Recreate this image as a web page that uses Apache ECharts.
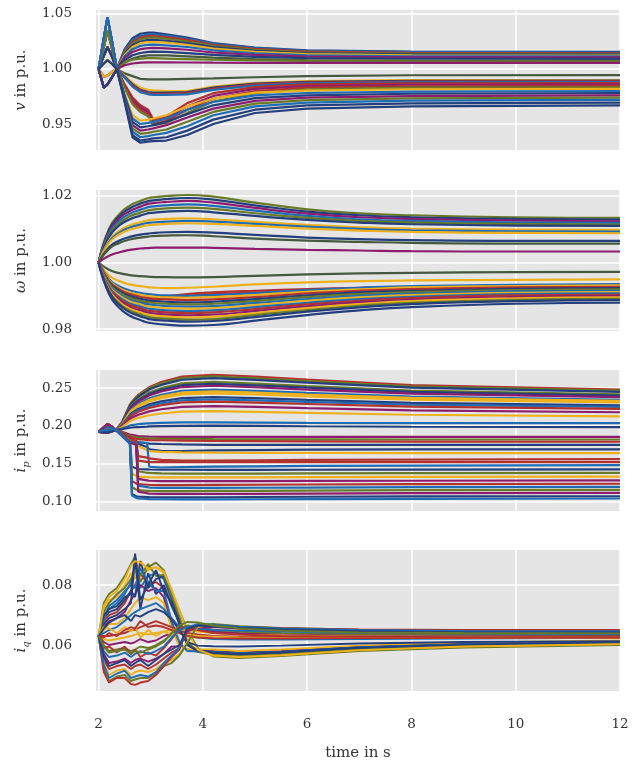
<!DOCTYPE html>
<html>
<head>
<meta charset="UTF-8">
<title>grid simulation</title>
<script src="https://cdn.jsdelivr.net/npm/echarts@6/dist/echarts.min.js"></script>
<style>
  html, body { margin: 0; padding: 0; background: #fff; }
  #chart { width: 644px; height: 762px; }
</style>
</head>
<body>
<div id="chart"></div>
<script>
// ---- time bases ----
var tV = [2, 2.1, 2.17, 2.25, 2.35, 2.5, 2.65, 2.8, 2.95, 3.05, 3.3, 3.7, 4.2, 5, 6, 8, 12];
var tW = [2, 2.2, 2.4, 2.6, 2.8, 2.9, 3.0, 3.3, 3.7, 4.2, 5, 6, 7, 8, 10, 12];
var tP = [2, 2.1, 2.17, 2.25, 2.33, 2.45, 2.6, 2.64, 2.72, 2.76, 2.93, 2.97, 3.2, 3.6, 4.2, 5, 6, 8, 12];
var tQ = [2, 2.1, 2.2, 2.35, 2.5, 2.62, 2.7, 2.8, 2.95, 3.1, 3.25, 3.4, 3.55, 3.7, 3.9, 4.2, 4.7, 5.5, 7, 9, 12];

// ---- tick labels ----
var xTicks = [2, 4, 6, 8, 10, 12];
var vTicks = [0.95, 1.00, 1.05];
var wTicks = [0.98, 1.00, 1.02];
var pTicks = [0.10, 0.15, 0.20, 0.25];
var qTicks = [0.06, 0.08];

// ---- voltage v ----
var vUpper = [
  [1, 1.028, 1.047, 1.027, 1.000, 1.018, 1.028, 1.032, 1.033, 1.033, 1.0315, 1.0285, 1.0235, 1.0195, 1.017, 1.0158, 1.0155],
  [1, 0.983, 0.986, 0.992, 1.000, 1.017, 1.026, 1.030, 1.0315, 1.0315, 1.0305, 1.0275, 1.023, 1.019, 1.0165, 1.0153, 1.015],
  [1, 1.020, 1.035, 1.020, 1.000, 1.016, 1.0245, 1.0285, 1.030, 1.030, 1.029, 1.0265, 1.022, 1.0182, 1.0158, 1.0146, 1.0143],
  [1, 0.983, 0.986, 0.992, 1.000, 1.015, 1.023, 1.027, 1.0285, 1.0285, 1.0275, 1.025, 1.021, 1.0173, 1.015, 1.0139, 1.0136],
  [1, 1.012, 1.020, 1.012, 1.000, 1.014, 1.0215, 1.025, 1.0265, 1.0265, 1.0255, 1.0235, 1.0198, 1.0165, 1.0143, 1.0132, 1.013],
  [1, 1.028, 1.047, 1.027, 1.000, 1.013, 1.020, 1.0235, 1.0245, 1.0245, 1.024, 1.022, 1.0185, 1.0155, 1.0135, 1.0125, 1.0122],
  [1, 0.993, 0.994, 0.997, 1.000, 1.0115, 1.018, 1.021, 1.022, 1.0222, 1.0215, 1.020, 1.017, 1.0143, 1.0125, 1.0116, 1.0114],
  [1, 1.020, 1.035, 1.020, 1.000, 1.010, 1.0155, 1.018, 1.019, 1.0192, 1.0188, 1.0175, 1.015, 1.0128, 1.0113, 1.0106, 1.0105],
  [1, 0.983, 0.986, 0.992, 1.000, 1.008, 1.0125, 1.0145, 1.0155, 1.0158, 1.0155, 1.0145, 1.0128, 1.011, 1.0098, 1.0093, 1.0092],
  [1, 1.005, 1.008, 1.005, 1.000, 1.006, 1.0095, 1.0115, 1.0123, 1.0125, 1.0123, 1.0115, 1.0103, 1.009, 1.008, 1.0076, 1.0075],
  [1, 1.005, 1.008, 1.005, 1.000, 1.006, 1.0085, 1.0095, 1.0098, 1.0098, 1.0095, 1.009, 1.0084, 1.0078, 1.0073, 1.007, 1.007],
  [1, 0.993, 0.994, 0.997, 1.000, 1.0035, 1.005, 1.0058, 1.006, 1.006, 1.006, 1.0059, 1.0057, 1.0056, 1.0055, 1.0055, 1.0055]
];
var vMiddle = [
  [1, 1.012, 1.020, 1.012, 1.000, 0.996, 0.9935, 0.991, 0.9905, 0.9905, 0.9905, 0.991, 0.9915, 0.9925, 0.9935, 0.9943, 0.9945],
  [1, 1.005, 1.008, 1.005, 1.000, 0.994, 0.9875, 0.983, 0.981, 0.9805, 0.980, 0.980, 0.984, 0.9875, 0.989, 0.9898, 0.990],
  [1, 1.028, 1.047, 1.027, 1.000, 0.993, 0.986, 0.981, 0.979, 0.9785, 0.9785, 0.979, 0.983, 0.9868, 0.9883, 0.9892, 0.9895],
  [1, 0.983, 0.986, 0.992, 1.000, 0.9925, 0.985, 0.980, 0.978, 0.9775, 0.9775, 0.978, 0.982, 0.986, 0.9876, 0.9885, 0.9888],
  [1, 1.020, 1.035, 1.020, 1.000, 0.992, 0.984, 0.979, 0.977, 0.9765, 0.9765, 0.977, 0.981, 0.985, 0.987, 0.9878, 0.988]
];
var vLower = [
  [1, 1.012, 1.020, 1.012, 1.000, 0.986, 0.974, 0.967, 0.963, 0.954, 0.957, 0.969, 0.978, 0.9835, 0.986, 0.987, 0.9872],
  [1, 1.028, 1.047, 1.027, 1.000, 0.985, 0.972, 0.965, 0.961, 0.952, 0.955, 0.966, 0.9755, 0.982, 0.9845, 0.9857, 0.986],
  [1, 0.983, 0.986, 0.992, 1.000, 0.984, 0.970, 0.963, 0.959, 0.950, 0.953, 0.963, 0.973, 0.980, 0.983, 0.9843, 0.9847],
  [1, 1.020, 1.035, 1.020, 1.000, 0.983, 0.968, 0.961, 0.957, 0.949, 0.951, 0.960, 0.9705, 0.978, 0.9815, 0.983, 0.9834],
  [1, 0.993, 0.994, 0.997, 1.000, 0.977, 0.958, 0.953, 0.954, 0.955, 0.958, 0.966, 0.973, 0.9785, 0.9804, 0.9816, 0.982],
  [1, 1.028, 1.047, 1.027, 1.000, 0.976, 0.955, 0.950, 0.951, 0.952, 0.955, 0.963, 0.970, 0.976, 0.9782, 0.9795, 0.980],
  [1, 1.012, 1.020, 1.012, 1.000, 0.975, 0.952, 0.947, 0.948, 0.949, 0.952, 0.959, 0.967, 0.9735, 0.976, 0.9775, 0.978],
  [1, 0.983, 0.986, 0.992, 1.000, 0.974, 0.949, 0.944, 0.945, 0.946, 0.949, 0.956, 0.964, 0.971, 0.974, 0.9754, 0.976],
  [1, 1.020, 1.035, 1.020, 1.000, 0.973, 0.946, 0.941, 0.942, 0.943, 0.945, 0.952, 0.961, 0.9685, 0.9717, 0.9733, 0.974],
  [1, 1.028, 1.047, 1.027, 1.000, 0.972, 0.943, 0.938, 0.939, 0.940, 0.942, 0.948, 0.958, 0.966, 0.9695, 0.9712, 0.972],
  [1, 1.005, 1.008, 1.005, 1.000, 0.971, 0.940, 0.935, 0.936, 0.937, 0.938, 0.944, 0.954, 0.963, 0.967, 0.9688, 0.9695],
  [1, 0.983, 0.986, 0.992, 1.000, 0.970, 0.938, 0.933, 0.934, 0.9345, 0.935, 0.940, 0.950, 0.960, 0.964, 0.966, 0.967]
];
var vColors = 'nbronybpngop' + 'gynrb' + 'rproybnpobnn';

// ---- frequency omega ----
var wUpper = [
  [1, 1.0102, 1.0146, 1.0171, 1.0185, 1.0191, 1.0195, 1.0200, 1.0203, 1.0198, 1.0180, 1.0160, 1.0148, 1.0142, 1.0136, 1.0134],
  [1, 1.0097, 1.0140, 1.0163, 1.0177, 1.0182, 1.0186, 1.0191, 1.0194, 1.0189, 1.0172, 1.0153, 1.0142, 1.0136, 1.0131, 1.0129],
  [1, 1.0092, 1.0133, 1.0155, 1.0168, 1.0174, 1.0178, 1.0182, 1.0185, 1.0180, 1.0164, 1.0147, 1.0136, 1.0131, 1.0126, 1.0124],
  [1, 1.0087, 1.0126, 1.0147, 1.0159, 1.0164, 1.0168, 1.0172, 1.0175, 1.0170, 1.0156, 1.0140, 1.0130, 1.0125, 1.0121, 1.0119],
  [1, 1.0082, 1.0119, 1.0139, 1.0150, 1.0155, 1.0158, 1.0163, 1.0165, 1.0161, 1.0148, 1.0134, 1.0125, 1.0120, 1.0116, 1.0114],
  [1, 1.0077, 1.0112, 1.0130, 1.0141, 1.0146, 1.0149, 1.0153, 1.0155, 1.0151, 1.0140, 1.0128, 1.0120, 1.0115, 1.0111, 1.0110],
  [1, 1.0066, 1.0096, 1.0112, 1.0121, 1.0125, 1.0128, 1.0131, 1.0133, 1.0130, 1.0122, 1.0113, 1.0106, 1.0102, 1.0099, 1.0098],
  [1, 1.0062, 1.0090, 1.0105, 1.0114, 1.0118, 1.0120, 1.0123, 1.0125, 1.0123, 1.0116, 1.0108, 1.0101, 1.0097, 1.0094, 1.0093],
  [1, 1.0059, 1.0085, 1.0099, 1.0107, 1.0111, 1.0113, 1.0116, 1.0118, 1.0116, 1.0110, 1.0102, 1.0096, 1.0092, 1.0089, 1.0088],
  [1, 1.0046, 1.0066, 1.0077, 1.0084, 1.0086, 1.0088, 1.0091, 1.0092, 1.0090, 1.0083, 1.0075, 1.0070, 1.0067, 1.0065, 1.0065],
  [1, 1.0041, 1.0059, 1.0069, 1.0075, 1.0077, 1.0079, 1.0081, 1.0082, 1.0079, 1.0072, 1.0066, 1.0062, 1.0059, 1.0057, 1.0057],
  [1, 1.0020, 1.0031, 1.0038, 1.0042, 1.0043, 1.0044, 1.0045, 1.0045, 1.0044, 1.0041, 1.0038, 1.0036, 1.0034, 1.0033, 1.0033]
];
var wLower = [
  [1, 0.9978, 0.9968, 0.9962, 0.9959, 0.9958, 0.9957, 0.9956, 0.9955, 0.9956, 0.9960, 0.9964, 0.9967, 0.9969, 0.9971, 0.9972],
  [1, 0.9961, 0.9944, 0.9934, 0.9929, 0.9927, 0.9925, 0.9923, 0.9924, 0.9927, 0.9934, 0.9940, 0.9944, 0.9946, 0.9948, 0.9949],
  [1, 0.9950, 0.9920, 0.9900, 0.9886, 0.9882, 0.9888, 0.9898, 0.9905, 0.9910, 0.9915, 0.9920, 0.9924, 0.9927, 0.9930, 0.9931],
  [1, 0.9947, 0.9916, 0.9896, 0.9882, 0.9878, 0.9882, 0.9892, 0.9900, 0.9905, 0.9910, 0.9916, 0.9920, 0.9923, 0.9926, 0.9927],
  [1, 0.9950, 0.9928, 0.9916, 0.9909, 0.9906, 0.9904, 0.9901, 0.9900, 0.9902, 0.9908, 0.9917, 0.9924, 0.9929, 0.9933, 0.9935],
  [1, 0.9947, 0.9923, 0.9910, 0.9903, 0.9900, 0.9898, 0.9895, 0.9894, 0.9896, 0.9902, 0.9912, 0.9919, 0.9925, 0.9929, 0.9931],
  [1, 0.9944, 0.9919, 0.9905, 0.9897, 0.9894, 0.9892, 0.9889, 0.9887, 0.9889, 0.9896, 0.9907, 0.9915, 0.9920, 0.9925, 0.9927],
  [1, 0.9940, 0.9914, 0.9899, 0.9891, 0.9888, 0.9885, 0.9882, 0.9880, 0.9882, 0.9890, 0.9901, 0.9910, 0.9915, 0.9921, 0.9923],
  [1, 0.9937, 0.9909, 0.9894, 0.9885, 0.9882, 0.9879, 0.9876, 0.9874, 0.9876, 0.9884, 0.9896, 0.9905, 0.9911, 0.9917, 0.9919],
  [1, 0.9933, 0.9904, 0.9888, 0.9879, 0.9875, 0.9873, 0.9869, 0.9867, 0.9869, 0.9878, 0.9890, 0.9900, 0.9906, 0.9913, 0.9915],
  [1, 0.9930, 0.9900, 0.9883, 0.9874, 0.9869, 0.9867, 0.9863, 0.9861, 0.9863, 0.9872, 0.9885, 0.9895, 0.9902, 0.9909, 0.9911],
  [1, 0.9927, 0.9895, 0.9877, 0.9868, 0.9863, 0.9860, 0.9856, 0.9854, 0.9856, 0.9866, 0.9879, 0.9890, 0.9897, 0.9905, 0.9907],
  [1, 0.9924, 0.9891, 0.9872, 0.9862, 0.9857, 0.9854, 0.9850, 0.9848, 0.9850, 0.9860, 0.9874, 0.9885, 0.9893, 0.9901, 0.9903],
  [1, 0.9921, 0.9886, 0.9866, 0.9856, 0.9851, 0.9848, 0.9843, 0.9841, 0.9843, 0.9854, 0.9868, 0.9880, 0.9888, 0.9896, 0.9899],
  [1, 0.9918, 0.9881, 0.9861, 0.9850, 0.9845, 0.9842, 0.9837, 0.9835, 0.9837, 0.9848, 0.9863, 0.9875, 0.9884, 0.9892, 0.9895],
  [1, 0.9914, 0.9876, 0.9855, 0.9844, 0.9839, 0.9835, 0.9831, 0.9828, 0.9830, 0.9842, 0.9857, 0.9870, 0.9879, 0.9888, 0.9891],
  [1, 0.9911, 0.9872, 0.9850, 0.9838, 0.9833, 0.9829, 0.9825, 0.9822, 0.9824, 0.9836, 0.9852, 0.9865, 0.9875, 0.9884, 0.9887],
  [1, 0.9905, 0.9863, 0.9840, 0.9827, 0.9821, 0.9818, 0.9813, 0.9810, 0.9812, 0.9825, 0.9842, 0.9856, 0.9866, 0.9876, 0.9879]
];
var wColors = 'onpbonybyngp' + 'gyrrbyrnobybrpyonn';

// ---- active current i_p ----
var pUpper = [
  [0.192, 0.198, 0.2025, 0.199, 0.1947, 0.205, 0.228, 0.232, 0.238, 0.241, 0.249, 0.251, 0.258, 0.265, 0.2675, 0.265, 0.261, 0.254, 0.248],
  [0.192, 0.195, 0.198, 0.197, 0.1947, 0.2046, 0.2272, 0.2314, 0.2371, 0.2399, 0.2477, 0.2498, 0.2561, 0.2632, 0.2653, 0.2629, 0.2591, 0.2523, 0.2465],
  [0.192, 0.195, 0.198, 0.197, 0.1947, 0.2043, 0.2261, 0.2302, 0.2357, 0.2384, 0.2459, 0.248, 0.2541, 0.2609, 0.263, 0.2607, 0.257, 0.2506, 0.245],
  [0.192, 0.193, 0.1935, 0.194, 0.1947, 0.2036, 0.2238, 0.2276, 0.2327, 0.2352, 0.2422, 0.2441, 0.2498, 0.2561, 0.258, 0.2559, 0.2526, 0.2466, 0.2415],
  [0.192, 0.198, 0.2025, 0.199, 0.1947, 0.2032, 0.2227, 0.2263, 0.2312, 0.2336, 0.2403, 0.2421, 0.2476, 0.2537, 0.2555, 0.2535, 0.2504, 0.2448, 0.240],
  [0.192, 0.198, 0.2025, 0.199, 0.1947, 0.2029, 0.2215, 0.225, 0.2297, 0.232, 0.2384, 0.2402, 0.2454, 0.2513, 0.253, 0.251, 0.248, 0.2427, 0.238],
  [0.192, 0.1915, 0.191, 0.1925, 0.1947, 0.2022, 0.2192, 0.2224, 0.2267, 0.2288, 0.2347, 0.2363, 0.241, 0.2464, 0.248, 0.2462, 0.2435, 0.2387, 0.2345],
  [0.192, 0.1915, 0.191, 0.1925, 0.1947, 0.2018, 0.2181, 0.2211, 0.2252, 0.2272, 0.2328, 0.2343, 0.2389, 0.2440, 0.2455, 0.2439, 0.2414, 0.2369, 0.233],
  [0.192, 0.195, 0.198, 0.197, 0.1947, 0.2015, 0.2169, 0.2198, 0.2237, 0.2256, 0.2309, 0.2324, 0.2367, 0.2416, 0.243, 0.2414, 0.239, 0.2347, 0.231],
  [0.192, 0.198, 0.2025, 0.199, 0.1947, 0.2008, 0.2146, 0.2172, 0.2207, 0.2224, 0.2272, 0.2285, 0.2324, 0.2367, 0.238, 0.2366, 0.2344, 0.2304, 0.227],
  [0.192, 0.193, 0.1935, 0.194, 0.1947, 0.2003, 0.2132, 0.2157, 0.2189, 0.2205, 0.2249, 0.2261, 0.2298, 0.2338, 0.235, 0.2337, 0.2317, 0.2281, 0.225],
  [0.192, 0.193, 0.1935, 0.194, 0.1947, 0.2000, 0.2119, 0.2141, 0.2171, 0.2186, 0.2227, 0.2238, 0.2272, 0.231, 0.232, 0.2308, 0.2289, 0.2254, 0.2225],
  [0.192, 0.195, 0.198, 0.197, 0.1947, 0.1991, 0.2091, 0.2110, 0.2135, 0.2147, 0.2182, 0.2191, 0.2219, 0.2250, 0.226, 0.225, 0.2234, 0.2205, 0.218],
  [0.192, 0.1915, 0.191, 0.1925, 0.1947, 0.1982, 0.2061, 0.2076, 0.2096, 0.2106, 0.2133, 0.2140, 0.2163, 0.2188, 0.2195, 0.2186, 0.2172, 0.2147, 0.2125],
  [0.192, 0.198, 0.2025, 0.199, 0.1947, 0.1965, 0.2005, 0.2010, 0.2018, 0.2022, 0.2032, 0.2034, 0.2040, 0.2045, 0.2045, 0.2043, 0.2040, 0.2037, 0.2035],
  [0.192, 0.193, 0.1935, 0.194, 0.1947, 0.1955, 0.1975, 0.1978, 0.1982, 0.1984, 0.1990, 0.1992, 0.1996, 0.2000, 0.2002, 0.2000, 0.1995, 0.1988, 0.1982]
];
var pMiddle = [
  [0.192, 0.195, 0.198, 0.197, 0.1947, 0.192, 0.1885, 0.188, 0.187, 0.1866, 0.1858, 0.1857, 0.1855, 0.1855, 0.1855, 0.1855, 0.1855, 0.1855, 0.1855],
  [0.192, 0.198, 0.2025, 0.199, 0.1947, 0.1915, 0.187, 0.186, 0.185, 0.1845, 0.1835, 0.1833, 0.183, 0.1828, 0.1825, 0.1823, 0.1822, 0.182, 0.182],
  [0.192, 0.1915, 0.191, 0.1925, 0.1947, 0.191, 0.1855, 0.1845, 0.183, 0.1825, 0.1815, 0.1812, 0.181, 0.1805, 0.180, 0.1797, 0.1795, 0.1792, 0.179],
  [0.192, 0.193, 0.1935, 0.194, 0.1947, 0.190, 0.183, 0.1815, 0.1795, 0.1785, 0.177, 0.1765, 0.176, 0.1755, 0.175, 0.175, 0.175, 0.175, 0.175],
  [0.192, 0.195, 0.198, 0.197, 0.1947, 0.1895, 0.181, 0.1795, 0.177, 0.176, 0.172, 0.169, 0.167, 0.1668, 0.1675, 0.168, 0.1685, 0.169, 0.169],
  [0.192, 0.198, 0.2025, 0.199, 0.1947, 0.189, 0.180, 0.178, 0.175, 0.173, 0.168, 0.1665, 0.1655, 0.165, 0.1645, 0.1643, 0.1642, 0.164, 0.164],
  [0.192, 0.193, 0.1935, 0.194, 0.1947, 0.1895, 0.182, 0.181, 0.179, 0.178, 0.1775, 0.146, 0.145, 0.1455, 0.146, 0.1465, 0.147, 0.1475, 0.148],
  [0.192, 0.195, 0.198, 0.197, 0.1947, 0.1895, 0.183, 0.182, 0.180, 0.160, 0.158, 0.157, 0.155, 0.154, 0.154, 0.1545, 0.155, 0.1555, 0.156],
  [0.192, 0.1915, 0.191, 0.1925, 0.1947, 0.189, 0.181, 0.1795, 0.1785, 0.154, 0.1525, 0.1522, 0.152, 0.152, 0.152, 0.152, 0.152, 0.152, 0.152]
];
var pLower = [
  [0.192, 0.198, 0.2025, 0.199, 0.1947, 0.189, 0.181, 0.146, 0.144, 0.143, 0.1425, 0.1423, 0.142, 0.142, 0.1418, 0.1418, 0.142, 0.1422, 0.1425],
  [0.192, 0.193, 0.1935, 0.194, 0.1947, 0.1885, 0.1805, 0.179, 0.177, 0.140, 0.138, 0.1378, 0.1372, 0.137, 0.137, 0.137, 0.1372, 0.1375, 0.138],
  [0.192, 0.195, 0.198, 0.197, 0.1947, 0.188, 0.180, 0.137, 0.134, 0.133, 0.1322, 0.132, 0.1318, 0.1318, 0.1318, 0.132, 0.1322, 0.1325, 0.133],
  [0.192, 0.1915, 0.191, 0.1925, 0.1947, 0.188, 0.1795, 0.178, 0.176, 0.130, 0.128, 0.1275, 0.127, 0.127, 0.127, 0.127, 0.1272, 0.1275, 0.128],
  [0.192, 0.198, 0.2025, 0.199, 0.1947, 0.1875, 0.179, 0.127, 0.124, 0.123, 0.1222, 0.122, 0.1218, 0.1218, 0.122, 0.1222, 0.1225, 0.123, 0.1235],
  [0.192, 0.193, 0.1935, 0.194, 0.1947, 0.1875, 0.1785, 0.1775, 0.1755, 0.121, 0.119, 0.1185, 0.118, 0.118, 0.118, 0.1182, 0.1185, 0.119, 0.1195],
  [0.192, 0.195, 0.198, 0.197, 0.1947, 0.187, 0.178, 0.119, 0.116, 0.115, 0.1142, 0.114, 0.1138, 0.1138, 0.114, 0.1142, 0.1145, 0.115, 0.1155],
  [0.192, 0.198, 0.2025, 0.199, 0.1947, 0.187, 0.1775, 0.177, 0.175, 0.113, 0.111, 0.1105, 0.110, 0.110, 0.110, 0.1102, 0.1105, 0.111, 0.1115],
  [0.192, 0.1915, 0.191, 0.1925, 0.1947, 0.1865, 0.177, 0.110, 0.107, 0.1065, 0.106, 0.1058, 0.1055, 0.1055, 0.1057, 0.106, 0.1063, 0.1068, 0.107],
  [0.192, 0.195, 0.198, 0.197, 0.1947, 0.1865, 0.1765, 0.108, 0.105, 0.104, 0.1035, 0.1032, 0.103, 0.1028, 0.1028, 0.103, 0.1032, 0.1035, 0.104]
];
var pColors = 'rononpbyynbrpybnp' + 'ornnybrrn' + 'oyprbopnbn';

// ---- reactive current i_q ----
var qHigh = [
  [0.063, 0.074, 0.077, 0.079, 0.083, 0.087, 0.0895, 0.081, 0.086, 0.0875, 0.085, 0.078, 0.0715, 0.065, 0.059, 0.0562, 0.0557, 0.0563, 0.058, 0.0592, 0.060],
  [0.063, 0.072, 0.075, 0.076, 0.080, 0.084, 0.082, 0.088, 0.085, 0.086, 0.084, 0.076, 0.069, 0.061, 0.0578, 0.0566, 0.0561, 0.0567, 0.0584, 0.0596, 0.0603],
  [0.063, 0.070, 0.072, 0.074, 0.077, 0.081, 0.086, 0.079, 0.083, 0.084, 0.082, 0.075, 0.068, 0.0605, 0.058, 0.057, 0.0566, 0.0571, 0.0588, 0.0599, 0.0606],
  [0.063, 0.068, 0.070, 0.071, 0.074, 0.078, 0.080, 0.084, 0.080, 0.081, 0.079, 0.074, 0.067, 0.060, 0.0582, 0.0575, 0.057, 0.0575, 0.0591, 0.0602, 0.0609],
  [0.063, 0.066, 0.068, 0.069, 0.071, 0.075, 0.077, 0.080, 0.078, 0.079, 0.076, 0.066, 0.060, 0.0585, 0.058, 0.058, 0.0575, 0.058, 0.0595, 0.0605, 0.0612],
  [0.063, 0.065, 0.067, 0.067, 0.069, 0.072, 0.074, 0.076, 0.075, 0.076, 0.074, 0.0655, 0.0595, 0.0585, 0.0585, 0.0585, 0.058, 0.0585, 0.0598, 0.0608, 0.0615],
  [0.063, 0.067, 0.069, 0.070, 0.072, 0.074, 0.089, 0.072, 0.084, 0.077, 0.080, 0.073, 0.0675, 0.0602, 0.0582, 0.0578, 0.0573, 0.0578, 0.0593, 0.0603, 0.061],
  [0.063, 0.069, 0.071, 0.072, 0.075, 0.078, 0.076, 0.088, 0.079, 0.082, 0.083, 0.076, 0.068, 0.0605, 0.0578, 0.0573, 0.0568, 0.0574, 0.059, 0.0601, 0.0608],
  [0.063, 0.071, 0.074, 0.077, 0.079, 0.082, 0.085, 0.083, 0.087, 0.083, 0.0835, 0.0765, 0.0695, 0.0612, 0.0577, 0.0568, 0.0563, 0.0569, 0.0586, 0.0597, 0.0605],
  [0.063, 0.0685, 0.073, 0.075, 0.078, 0.080, 0.079, 0.0855, 0.081, 0.078, 0.078, 0.068, 0.061, 0.058, 0.0578, 0.0577, 0.0572, 0.0577, 0.0592, 0.0602, 0.061],
  [0.063, 0.070, 0.072, 0.073, 0.076, 0.077, 0.0905, 0.075, 0.080, 0.085, 0.078, 0.074, 0.067, 0.060, 0.0581, 0.0575, 0.057, 0.0576, 0.0591, 0.0601, 0.0609],
  [0.063, 0.073, 0.076, 0.078, 0.082, 0.0865, 0.088, 0.0875, 0.0855, 0.086, 0.0845, 0.0785, 0.0715, 0.0645, 0.0585, 0.0565, 0.056, 0.0566, 0.0583, 0.0595, 0.0603]
];
var qMid = [
  [0.063, 0.064, 0.065, 0.066, 0.068, 0.070, 0.071, 0.072, 0.073, 0.074, 0.072, 0.069, 0.066, 0.064, 0.0625, 0.062, 0.0618, 0.0618, 0.062, 0.0622, 0.0624],
  [0.063, 0.063, 0.063, 0.0635, 0.064, 0.065, 0.065, 0.066, 0.067, 0.068, 0.067, 0.066, 0.065, 0.064, 0.0635, 0.063, 0.0628, 0.0628, 0.0628, 0.0628, 0.0628],
  [0.063, 0.062, 0.0615, 0.062, 0.0625, 0.063, 0.0635, 0.064, 0.0635, 0.064, 0.0645, 0.065, 0.0652, 0.065, 0.0645, 0.064, 0.0636, 0.0634, 0.0632, 0.0631, 0.063],
  [0.063, 0.061, 0.060, 0.0605, 0.061, 0.0605, 0.061, 0.062, 0.061, 0.0615, 0.063, 0.064, 0.0655, 0.066, 0.0655, 0.0645, 0.064, 0.0638, 0.0635, 0.0634, 0.0633],
  [0.063, 0.060, 0.058, 0.0585, 0.059, 0.058, 0.0585, 0.0595, 0.059, 0.060, 0.0615, 0.0635, 0.0655, 0.0665, 0.066, 0.065, 0.0645, 0.064, 0.0637, 0.0636, 0.0635],
  [0.063, 0.066, 0.0655, 0.064, 0.066, 0.0645, 0.066, 0.0625, 0.065, 0.063, 0.0645, 0.0635, 0.064, 0.0635, 0.063, 0.0628, 0.0625, 0.0624, 0.0624, 0.0624, 0.0624],
  [0.063, 0.059, 0.0595, 0.0575, 0.0595, 0.057, 0.0585, 0.056, 0.0575, 0.0565, 0.059, 0.062, 0.0655, 0.066, 0.065, 0.064, 0.0635, 0.063, 0.0628, 0.0626, 0.0626],
  [0.063, 0.0625, 0.064, 0.063, 0.065, 0.066, 0.0655, 0.068, 0.066, 0.0665, 0.066, 0.065, 0.064, 0.063, 0.0625, 0.0623, 0.0622, 0.0622, 0.0623, 0.0624, 0.0625],
  [0.063, 0.0655, 0.0675, 0.069, 0.070, 0.068, 0.070, 0.0695, 0.071, 0.072, 0.071, 0.0685, 0.065, 0.061, 0.0598, 0.0596, 0.0595, 0.0598, 0.0605, 0.061, 0.0613]
];
var qLow = [
  [0.063, 0.058, 0.056, 0.0565, 0.0575, 0.056, 0.057, 0.058, 0.057, 0.058, 0.0595, 0.0625, 0.065, 0.066, 0.0655, 0.065, 0.0648, 0.0645, 0.064, 0.0638, 0.0637],
  [0.063, 0.057, 0.054, 0.0545, 0.0555, 0.054, 0.055, 0.0555, 0.0545, 0.0555, 0.057, 0.0595, 0.0595, 0.0645, 0.0658, 0.066, 0.0655, 0.065, 0.0643, 0.064, 0.064],
  [0.063, 0.055, 0.052, 0.053, 0.0535, 0.052, 0.053, 0.0535, 0.052, 0.0535, 0.0555, 0.0575, 0.059, 0.065, 0.0665, 0.0665, 0.066, 0.0653, 0.0646, 0.0643, 0.0642],
  [0.063, 0.054, 0.050, 0.0515, 0.052, 0.050, 0.051, 0.0515, 0.051, 0.052, 0.054, 0.055, 0.057, 0.061, 0.066, 0.0668, 0.0662, 0.0656, 0.0649, 0.0646, 0.0645],
  [0.063, 0.052, 0.048, 0.0495, 0.050, 0.048, 0.0485, 0.049, 0.049, 0.0505, 0.053, 0.054, 0.0565, 0.0605, 0.0665, 0.067, 0.0663, 0.0657, 0.0651, 0.0648, 0.0647],
  [0.063, 0.051, 0.0475, 0.049, 0.049, 0.047, 0.0467, 0.0475, 0.048, 0.050, 0.053, 0.056, 0.0585, 0.0655, 0.0668, 0.0666, 0.066, 0.0656, 0.0652, 0.065, 0.065],
  [0.063, 0.0535, 0.049, 0.0505, 0.0515, 0.049, 0.0495, 0.050, 0.0495, 0.051, 0.054, 0.0565, 0.059, 0.066, 0.067, 0.0668, 0.0661, 0.0655, 0.065, 0.0647, 0.0646],
  [0.063, 0.056, 0.053, 0.054, 0.055, 0.053, 0.054, 0.055, 0.053, 0.055, 0.057, 0.0585, 0.060, 0.0655, 0.0665, 0.0662, 0.0657, 0.0652, 0.0646, 0.0643, 0.0642],
  [0.063, 0.0595, 0.0575, 0.058, 0.0585, 0.057, 0.058, 0.0575, 0.0585, 0.0595, 0.061, 0.064, 0.0665, 0.0677, 0.0675, 0.0665, 0.0655, 0.0648, 0.0642, 0.064, 0.0639]
];
var qColors = 'oybrpynnobny' + 'brypoyrrn' + 'bpryorbno';

// ---- styling ----
var FONT = 'DejaVu Serif';
var TXT = '#333';
var palette = { n: '#243f7c', b: '#1f6cb4', r: '#b2322e', o: '#697a28', y: '#eeb11c', p: '#8c1c6d', g: '#44593f' };

var panels = [
  { t: tV, lines: vUpper.concat(vMiddle, vLower), colors: vColors, smooth: false, width: 2.2,
    top: 10, height: 140, min: 0.9264, max: 1.0536, ticks: vTicks, name: '{i|v} in p.u.' },
  { t: tW, lines: wUpper.concat(wLower), colors: wColors, smooth: true, width: 2.2,
    top: 190, height: 141, min: 0.9794, max: 1.0218, ticks: wTicks, name: '{i|ω} in p.u.' },
  { t: tP, lines: pUpper.concat(pMiddle, pLower), colors: pColors, smooth: false, width: 2.2,
    top: 370, height: 141, min: 0.0875, max: 0.2738, ticks: pTicks, name: '{i|i}{s|p} in p.u.' },
  { t: tQ, lines: qHigh.concat(qMid, qLow), colors: qColors, smooth: false, width: 1.9,
    top: 550, height: 141, min: 0.04467, max: 0.0917, ticks: qTicks, name: '{i|i}{s|q} in p.u.' }
];

var grid = [], xAxis = [], yAxis = [], series = [];

panels.forEach(function (pn, i) {
  var last = i === panels.length - 1;
  grid.push({ left: 96, right: 24, top: pn.top, height: pn.height, show: true,
    backgroundColor: '#e5e5e5', borderWidth: 0 });

  xAxis.push({
    type: 'value', gridIndex: i, min: 1.95, max: 12,
    axisLine: { show: false }, axisTick: { show: false, customValues: xTicks },
    axisLabel: { show: last, customValues: xTicks, margin: 26,
      fontFamily: FONT, fontSize: 13.5, color: TXT },
    splitLine: { show: true, lineStyle: { color: '#fff', width: 1.5 } },
    name: last ? 'time in s' : '', nameLocation: 'middle', nameGap: 55,
    nameTextStyle: { fontFamily: FONT, fontSize: 15, color: TXT }
  });

  yAxis.push({
    type: 'value', gridIndex: i, min: pn.min, max: pn.max,
    axisLine: { show: false }, axisTick: { show: false, customValues: pn.ticks },
    axisLabel: { customValues: pn.ticks, margin: 24, fontFamily: FONT, fontSize: 13.5, color: TXT,
      formatter: function (v) { return v.toFixed(2); } },
    splitLine: { show: true, lineStyle: { color: '#fff', width: 1.5 } },
    name: pn.name, nameLocation: 'middle', nameGap: 57, nameRotate: 90,
    nameTextStyle: {
      fontFamily: FONT, fontSize: 15, color: TXT, lineHeight: 20,
      rich: {
        i: { fontFamily: FONT, fontSize: 15, fontStyle: 'italic', color: TXT, lineHeight: 20 },
        s: { fontFamily: FONT, fontSize: 10, fontStyle: 'italic', color: TXT, lineHeight: 10, verticalAlign: 'bottom' }
      }
    }
  });

  pn.lines.forEach(function (vals, k) {
    series.push({
      type: 'line', xAxisIndex: i, yAxisIndex: i,
      data: vals.map(function (v, j) { return [pn.t[j], v]; }),
      showSymbol: false, symbol: 'none', smooth: pn.smooth, silent: true,
      lineStyle: { width: pn.width, color: palette[pn.colors.charAt(k)] },
      emphasis: { disabled: true }
    });
  });
});

var chart = echarts.init(document.getElementById('chart'), null, { renderer: 'canvas' });
chart.setOption({
  animation: false,
  backgroundColor: '#fff',
  grid: grid,
  xAxis: xAxis,
  yAxis: yAxis,
  series: series
});
</script>
</body>
</html>
